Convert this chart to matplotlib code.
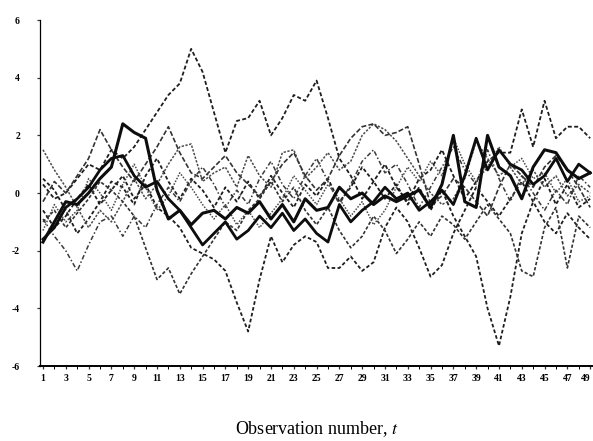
import numpy as np
import matplotlib
matplotlib.use('Agg')
import matplotlib.pyplot as plt

plt.rcParams['font.family'] = ['Liberation Serif', 'DejaVu Serif']
plt.rcParams['mathtext.fontset'] = 'stix'

t = np.arange(1, 50)

# two thick solid series
thick_a = [-1.7, -1.0, -0.3, -0.4, 0.0, 0.5, 0.9, 2.4, 2.1, 1.9, 0.1, -0.9, -0.6, -1.1, -0.7,
           -0.6, -0.9, -0.5, -0.7, -0.3, -0.9, -0.4, -1.0, -0.2, -0.6, -0.5, 0.2, -0.2, 0.0, -0.4,
           -0.1, -0.3, -0.1, 0.1, -0.5, 0.3, 2.0, -0.3, -0.5, 2.0, 0.9, 0.6, -0.2, 0.9, 1.5,
           1.4, 0.8, 0.5, 0.7]
thick_b = [-1.6, -1.2, -0.5, -0.2, 0.2, 0.8, 1.2, 1.3, 0.6, 0.2, 0.4, -0.2, -0.6, -1.2, -1.8,
           -1.4, -1.0, -1.6, -1.3, -0.8, -1.2, -0.7, -1.3, -0.9, -1.4, -1.7, -0.4, -1.0, -0.6, -0.3,
           0.2, -0.2, 0.0, -0.6, -0.3, 0.1, -0.4, 0.6, 1.9, 0.8, 1.5, 1.0, 0.8, 0.3, 0.6,
           1.2, 0.4, 1.0, 0.7]

# dashed / dotted series
s_high = [0.3, -0.2, 0.0, 0.5, 1.0, 0.8, 1.5, 1.2, 1.6, 2.2, 2.8, 3.4, 3.8, 5.0, 4.2,
          2.8, 1.4, 2.5, 2.6, 3.2, 2.0, 2.6, 3.4, 3.2, 3.9, 2.6, 1.2, 0.6, -0.2, 0.4,
          1.0, 0.2, -0.3, 0.5, 0.8, 1.5, 0.6, -0.2, 0.4, 1.1, 1.4, 1.4, 2.9, 1.6, 3.2,
          1.9, 2.3, 2.3, 1.9]
s_dip19 = [-0.6, -1.2, -0.8, -0.2, 0.3, -0.4, 0.1, 0.6, -0.2, 0.3, -0.5, -0.8, -1.2, -1.9, -2.1,
           -2.3, -2.7, -3.8, -4.8, -3.0, -1.5, -2.4, -1.8, -1.5, -1.7, -2.6, -2.6, -2.2, -2.7, -2.4,
           -1.2, -0.5, -1.0, -1.9, -2.9, -2.5, -1.4, -0.6, 0.2, -0.3, -0.8, -0.2, 0.4, -0.3, -1.0,
           -1.4, -0.7, -1.2, -1.6]
s_dip41 = [0.5, 0.1, -0.6, -1.4, -0.9, -0.3, 0.4, 0.2, -0.4, 0.6, 1.2, 0.4, -0.2, 0.5, 0.1,
           -0.5, 0.2, -0.3, 0.4, -0.2, 0.6, 0.0, -0.5, 0.3, -0.1, 0.5, -0.3, 0.2, 0.9, 0.4,
           -0.2, 0.3, -0.4, 0.2, -0.6, 0.1, -0.8, -1.5, -2.2, -4.0, -5.3, -3.6, -1.4, -0.3, 0.5,
           -0.4, 0.3, -0.5, -0.2]
s_start = [1.5, 0.8, 0.2, -0.5, -1.2, -0.6, -1.0, -0.3, 0.5, -0.2, 0.3, 1.0, 1.6, 1.7, 0.4,
           0.7, 0.9, 0.2, 1.3, 0.6, 0.2, 1.4, 1.5, 0.5, 0.9, 1.4, 0.8, 1.1, 2.0, 2.4,
           2.2, 1.8, 1.2, 0.6, 0.0, -0.4, -0.2, 0.5, 1.8, 1.2, 0.6, 0.9, 0.3, 0.8, 0.2,
           0.6, -0.1, 0.3, 0.0]
s_dip4 = [-0.9, -1.5, -2.0, -2.7, -1.8, -1.0, -0.8, -1.5, -0.8, -1.2, -0.4, 0.2, -0.3, 0.4, 0.9,
          0.3, -0.5, 0.1, -0.4, 0.5, 1.1, 0.3, -0.2, 0.6, 1.2, 0.4, -0.4, 0.3, 1.1, 1.5,
          0.7, 1.0, 0.3, -0.5, 0.2, 0.9, 1.6, 0.8, 0.3, 1.5, 0.5, -0.3, 0.6, 0.0, -0.6,
          0.1, -0.4, 0.6, 0.2]
s_dip13 = [-1.0, -0.6, -1.2, -0.7, -0.2, 0.4, 0.1, -0.3, -0.8, -1.9, -3.0, -2.6, -3.5, -2.8, -2.2,
           -1.6, -1.0, -1.3, -0.6, -0.2, 0.4, -0.3, 0.2, -0.6, -1.1, -0.5, -1.3, -1.9, -1.5, -0.8,
           -1.3, -2.1, -1.6, -1.0, -1.5, -0.8, -1.1, -1.6, -1.0, -0.4, -0.9, -1.4, -2.7, -2.9, -1.2,
           -0.5, -2.6, -0.8, -1.2]
s_mid = [-0.3, 0.4, 0.0, 0.6, 1.2, 2.2, 1.5, 0.9, 0.4, 1.0, 1.6, 2.3, 1.4, 0.7, 0.5,
         0.9, 1.3, 0.7, 0.3, -0.1, 0.4, 1.0, 1.4, 0.6, 0.1, 0.5, 1.3, 1.9, 2.3, 2.4,
         2.0, 2.1, 2.3, 1.0, -0.4, -0.1, 0.5, 0.2, -0.3, -0.8, 0.2, 1.0, 0.6, 0.2, 0.9,
         1.3, 0.8, 0.2, -0.5]
s_low = [-1.3, -0.4, -1.0, -0.6, 0.5, 0.0, -0.6, 0.3, 1.0, 0.2, -0.6, -0.1, 0.7, 0.2, -0.4,
         -0.9, -0.4, -1.1, -0.6, -1.2, -0.7, -0.2, 0.6, 0.1, -0.4, 0.3, -0.2, -0.8, -0.3, -1.1,
         -0.6, 0.2, 0.9, 0.4, 1.1, 0.6, 1.9, 1.0, 0.4, 0.9, 1.6, 0.9, 1.2, 0.5, 0.7,
         0.0, 0.5, -0.3, -0.1]

fig = plt.figure(figsize=(5.93, 4.41), dpi=100)
ax = fig.add_axes([0.0675, 0.170, 0.9325, 0.7846])

ink = '#1e1e1e'
ax.plot(t, s_high, color=ink, lw=1.3, ls=(0, (2.2, 1.3)))
ax.plot(t, s_dip19, color=ink, lw=1.3, ls=(0, (2, 1.3)))
ax.plot(t, s_dip41, color=ink, lw=1.3, ls=(0, (2, 1.3)))
ax.plot(t, s_start, color='#4a4a4a', lw=1.1, ls=(0, (1.5, 1)))
ax.plot(t, s_dip4, color='#3a3a3a', lw=1.1, ls=(0, (3, 1.5, 1, 1.5)))
ax.plot(t, s_dip13, color='#333333', lw=1.2, ls=(0, (2, 1.2)))
ax.plot(t, s_mid, color='#333333', lw=1.2, ls=(0, (3, 1.3)))
ax.plot(t, s_low, color='#4a4a4a', lw=1.1, ls=(0, (1, 1)))
ax.plot(t, thick_a, color='#0d0d0d', lw=2.2)
ax.plot(t, thick_b, color='#0d0d0d', lw=2.0)

ax.set_xlim(0.74, 49.25)
ax.set_ylim(-6, 6)
ax.set_yticks([6, 4, 2, 0, -2, -4, -6])
ax.set_yticklabels(['6', '4', '2', '0', '-2', '-4', '-6'])
ax.set_xticks(np.arange(1, 50, 2))
ax.set_xticks(np.arange(1, 50), minor=True)
ax.tick_params(axis='both', labelsize=7, length=2.5, width=0.9, color='#333333', pad=3)
ax.tick_params(axis='x', which='minor', length=2, width=0.7)
ax.tick_params(axis='y', pad=12)
for lab in ax.get_xticklabels() + ax.get_yticklabels():
    lab.set_fontweight('bold')
# last label sits at the very edge; anchor it on its right side so it stays visible
ax.get_xticklabels()[-1].set_horizontalalignment('right')

for side in ['top', 'right']:
    ax.spines[side].set_visible(False)
ax.spines['left'].set_linestyle((0, (2, 1)))
ax.spines['left'].set_linewidth(0.9)
ax.spines['bottom'].set_linewidth(1.4)

ax.set_xlabel('Observation number, $t$', fontsize=13, labelpad=26)

fig.savefig('out.png', dpi=100)
